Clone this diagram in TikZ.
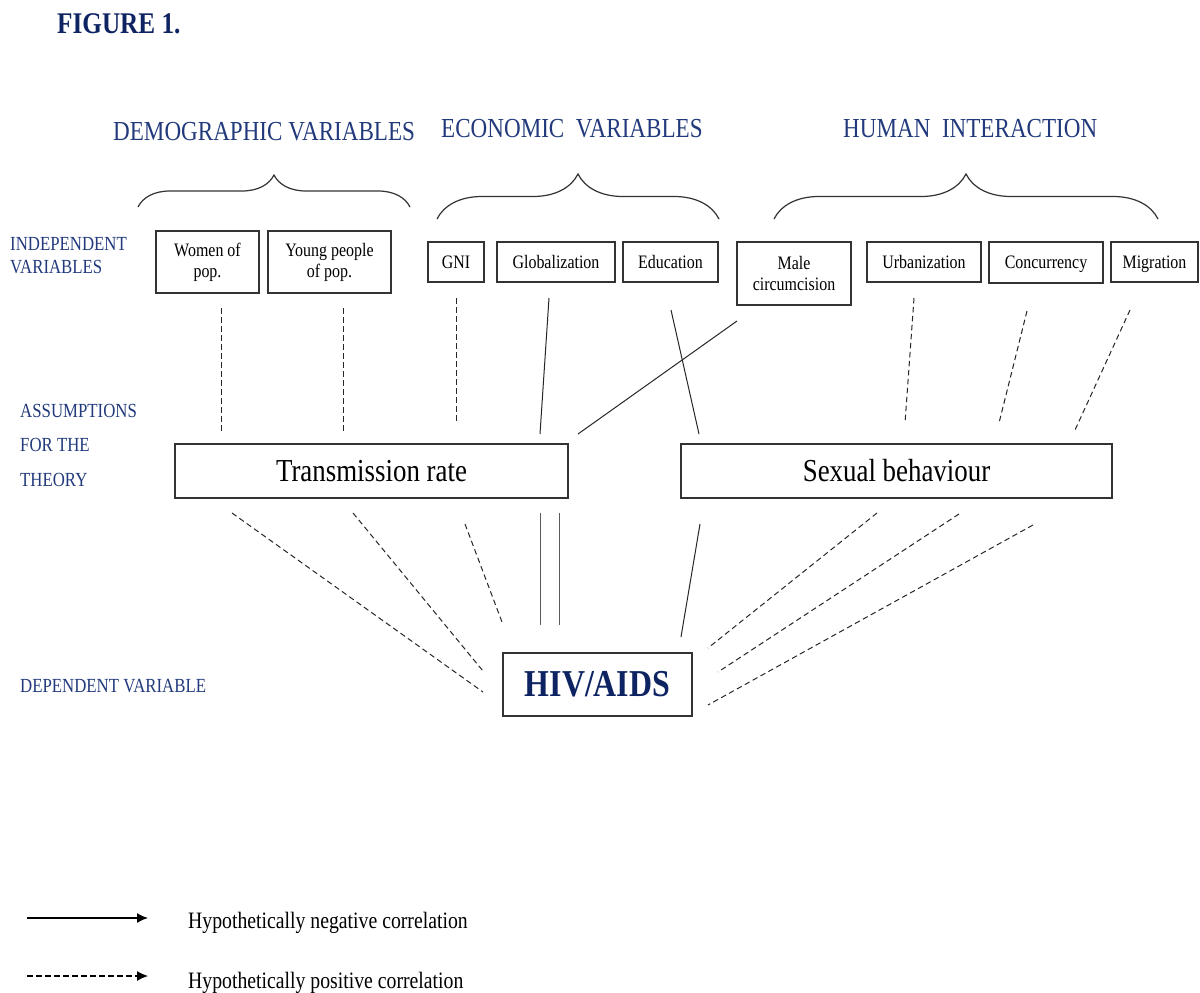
\documentclass[tikz,border=0pt]{standalone}
\usepackage{fontspec}
\setmainfont{Liberation Serif}[FakeStretch=0.84]
\usetikzlibrary{decorations.pathreplacing,arrows.meta}
\definecolor{navy}{RGB}{14,36,98}
\definecolor{labelblue}{RGB}{34,58,124}
\begin{document}
\begin{tikzpicture}[x=1pt,y=-1pt,
  var node/.style={draw=black!80,line width=1.3pt,inner sep=0pt,align=center,font=\fontsize{19}{21}\selectfont},
  single/.style={text height=12pt,text depth=0pt},
  big node/.style={draw=black!80,line width=1.3pt,inner sep=0pt,font=\fontsize{32}{36}\selectfont},
  head/.style={anchor=base west,inner sep=0pt,text=labelblue,font=\fontsize{27.5}{30}\selectfont},
  side/.style={anchor=base west,inner sep=0pt,align=left,text=labelblue},
  pcorr/.style={dash pattern=on 5.5pt off 3.5pt},
  curly/.style={decorate,decoration={brace,amplitude=#1},line width=1.2pt,draw=black!80}]
  \useasboundingbox (0,0) rectangle (1200,993);

  % titles and side labels
  \node[anchor=base west,inner sep=0pt,text=navy,font=\fontsize{30}{32}\selectfont\bfseries] (fig) at (57,33) {FIGURE 1.};
  \node[head] (demo) at (113,140) {DEMOGRAPHIC VARIABLES};
  \node[head] (econ) at (441,137) {ECONOMIC\ \ VARIABLES};
  \node[head] (human) at (843,137) {HUMAN\ \ INTERACTION};
  \node[side,font=\fontsize{20}{23}\selectfont] (indep) at (10,273) {INDEPENDENT\\VARIABLES};
  \node[side,font=\fontsize{20}{34.5}\selectfont] (assum) at (20,486) {ASSUMPTIONS\\FOR THE\\THEORY};
  \node[side,font=\fontsize{20}{23}\selectfont] (dep) at (20,692) {DEPENDENT VARIABLE};

  % braces
  \draw[curly=32pt] (138,207) -- (410,207);
  \draw[curly=45pt] (437,219) -- (719,219);
  \draw[curly=45pt] (774,219) -- (1158,219);

  % independent variables
  \node[var node,minimum width=103,minimum height=62] (women) at (207.5,262) {Women of\\pop.};
  \node[var node,minimum width=123,minimum height=62] (young) at (329.5,262) {Young people\\of pop.};
  \node[var node,single,minimum width=56,minimum height=40] (gni) at (456,262) {GNI};
  \node[var node,single,minimum width=118,minimum height=40] (glob) at (556,262) {Globalization};
  \node[var node,single,minimum width=95,minimum height=40] (edu) at (670.5,262) {Education};
  \node[var node,minimum width=114,minimum height=63] (male) at (794,273.5) {Male\\circumcision};
  \node[var node,single,minimum width=114,minimum height=40] (urban) at (924,262) {Urbanization};
  \node[var node,single,minimum width=114,minimum height=41] (conc) at (1046,262.5) {Concurrency};
  \node[var node,single,minimum width=87,minimum height=40] (migr) at (1154.5,262) {Migration};

  % assumptions and dependent variable
  \node[big node,minimum width=393,minimum height=54] (trans) at (371.5,471) {Transmission rate};
  \node[big node,minimum width=431,minimum height=54] (sexual) at (896.5,471) {Sexual behaviour};
  \node[big node,minimum width=189,minimum height=63,text=navy,font=\fontsize{38}{40}\selectfont\bfseries] (hiv) at (597.5,684.5) {HIV/AIDS};

  % line ends
  \coordinate (wA) at (221,308);  \coordinate (wB) at (221,433);
  \coordinate (yA) at (343,308);  \coordinate (yB) at (343,433);
  \coordinate (gA) at (456,298);  \coordinate (gB) at (456,423);
  \coordinate (glA) at (549,298); \coordinate (glB) at (540,434);
  \coordinate (eA) at (671,310);  \coordinate (eB) at (699,434);
  \coordinate (mA) at (737,321);  \coordinate (mB) at (578,434);
  \coordinate (uA) at (914,298);  \coordinate (uB) at (905,423);
  \coordinate (cA) at (1027,311); \coordinate (cB) at (999,423);
  \coordinate (miA) at (1130,310); \coordinate (miB) at (1075,430);

  \coordinate (t1) at (232,513); \coordinate (h1) at (483,692);
  \coordinate (t2) at (353,513); \coordinate (h2) at (483,671);
  \coordinate (t3) at (465,524); \coordinate (h3) at (502,622);
  \coordinate (t4) at (540,513); \coordinate (h4) at (540,625);
  \coordinate (t5) at (559,513); \coordinate (h5) at (559,625);
  \coordinate (s1) at (700,524); \coordinate (h6) at (681,637);
  \coordinate (s2) at (877,513); \coordinate (h7) at (708,648);
  \coordinate (s3) at (959,514); \coordinate (h8) at (718,672);
  \coordinate (s4) at (1033,525); \coordinate (h9) at (708,705);

  \begin{scope}[draw=black!85,line width=1pt]
  \path (wA) edge[pcorr] (wB)
    (yA) edge[pcorr] (yB)
    (gA) edge[pcorr] (gB)
    (glA) edge (glB)
    (eA) edge (eB)
    (mA) edge (mB)
    (uA) edge[pcorr] (uB)
    (cA) edge[pcorr] (cB)
    (miA) edge[pcorr] (miB)
    (t1) edge[pcorr] (h1)
    (t2) edge[pcorr] (h2)
    (t3) edge[pcorr] (h3)
    (t4) edge[black!65] (h4)
    (t5) edge[black!65] (h5)
    (s1) edge (h6)
    (s2) edge[pcorr] (h7)
    (s3) edge[pcorr] (h8)
    (s4) edge[pcorr] (h9);
  \end{scope}

  % legend
  \node[anchor=base west,inner sep=0pt,font=\fontsize{23.5}{26}\selectfont] (negtext) at (188,928) {Hypothetically negative correlation};
  \node[anchor=base west,inner sep=0pt,font=\fontsize{23.5}{26}\selectfont] (postext) at (188,988) {Hypothetically positive correlation};
  \coordinate (la) at (27,918); \coordinate (lb) at (148,918);
  \coordinate (lc) at (27,976); \coordinate (ld) at (148,976);
  \draw[line width=1.4pt,-{Latex[length=11pt,width=10pt]}] (la) -- (lb);
  \draw[line width=1.1pt,pcorr,-{Latex[length=11pt,width=10pt]}] (lc) -- (ld);
\end{tikzpicture}
\end{document}
